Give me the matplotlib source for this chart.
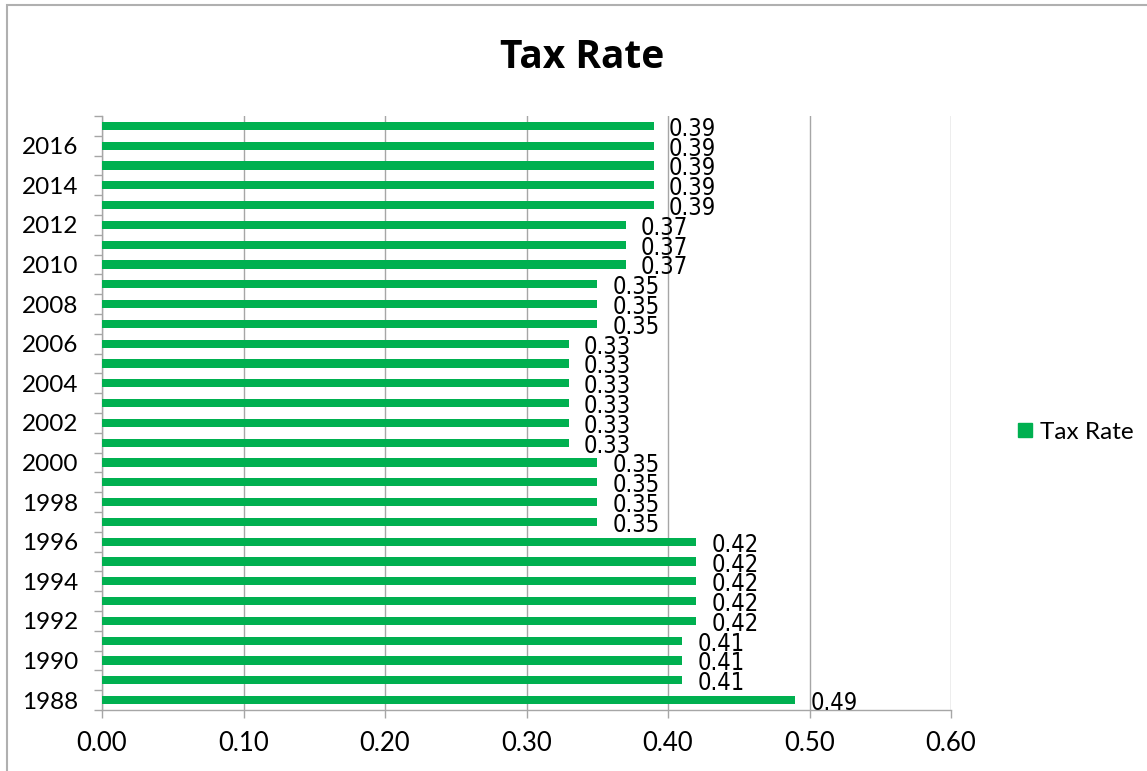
import matplotlib
matplotlib.use("Agg")
import matplotlib.pyplot as plt
from matplotlib.lines import Line2D
from matplotlib.patches import Rectangle
from matplotlib import font_manager

years = list(range(1988, 2018))
tax_rate = [0.49, 0.41, 0.41, 0.41, 0.42, 0.42, 0.42, 0.42, 0.42,
            0.35, 0.35, 0.35, 0.35,
            0.33, 0.33, 0.33, 0.33, 0.33, 0.33,
            0.35, 0.35, 0.35,
            0.37, 0.37, 0.37,
            0.39, 0.39, 0.39, 0.39, 0.39]
x_ticks = [0.0, 0.1, 0.2, 0.3, 0.4, 0.5, 0.6]
title = "Tax Rate"
series_name = "Tax Rate"

GREEN = "#00B050"
GRAY = "#A6A6A6"
TICKFONT = "Lato"

# prefer upright DejaVu Sans Condensed for data labels if available
cond = [f for f in font_manager.fontManager.ttflist
        if f.name.startswith("DejaVu Sans") and f.stretch == "condensed"
        and f.style == "normal" and f.weight in (400, "normal")
        and "Mono" not in f.name]
if cond:
    LABEL_KW = dict(fontproperties=font_manager.FontProperties(fname=cond[0].fname, size=17))
else:
    LABEL_KW = dict(fontfamily="DejaVu Sans", fontsize=15)

W, H = 1147, 771
fig = plt.figure(figsize=(W / 100, H / 100), dpi=100)
ax = fig.add_axes([102 / W, 1 - 710 / H, (951 - 102) / W, (710 - 116) / H])

pos = list(range(len(years)))
ax.barh(pos, tax_rate, height=0.42, color=GREEN, zorder=3)
ax.set_ylim(-0.5, len(years) - 0.5)
ax.set_xlim(0, 0.6)

for p, v in zip(pos, tax_rate):
    ax.annotate(f"{v:.2f}", xy=(v, p), xytext=(15, -3), textcoords="offset pixels",
                ha="left", va="center", color="black", zorder=4, **LABEL_KW)

# x axis
ax.set_xticks(x_ticks)
ax.set_xticklabels([f"{t:.2f}" for t in x_ticks], fontsize=18.5, family=TICKFONT)
ax.tick_params(axis="x", direction="out", length=6, width=1, color=GRAY, pad=9)
ax.xaxis.grid(True, color=GRAY, linewidth=1, zorder=0)

# y axis: ticks at category boundaries, labels every other category
ax.set_yticks([p - 0.5 for p in pos] + [len(years) - 0.5], minor=False)
ax.set_yticklabels([])
ax.tick_params(axis="y", which="major", direction="out", length=6, width=1, color=GRAY)
ax.set_yticks(pos[::2], minor=True)
ax.set_yticklabels([str(y) for y in years[::2]], minor=True, fontsize=17.5, family=TICKFONT)
ax.tick_params(axis="y", which="minor", length=0, pad=17)

for s in ["top", "right"]:
    ax.spines[s].set_visible(False)
for s in ["left", "bottom"]:
    ax.spines[s].set_color(GRAY)
    ax.spines[s].set_linewidth(1)

fig.text(582 / W, 1 - 58 / H, title, ha="center", va="center", fontsize=28,
         fontweight="bold", family="Open Sans")

handle = Line2D([], [], marker="s", linestyle="none", markersize=10,
                markerfacecolor=GREEN, markeredgecolor=GREEN)
fig.legend([handle], [series_name], loc="center left",
           bbox_to_anchor=(1001 / W, 1 - 432 / H), frameon=False,
           prop={"family": TICKFONT, "size": 17.5}, handletextpad=0.1,
           handlelength=1.0, borderpad=0)

fig.patches.append(Rectangle((6.5 / W, -0.1), 1.2, 1 - 5.5 / H + 0.1,
                             transform=fig.transFigure, fill=False,
                             edgecolor="#B0B0B0", linewidth=1.5))

fig.savefig("out.png", dpi=100, facecolor="white")
